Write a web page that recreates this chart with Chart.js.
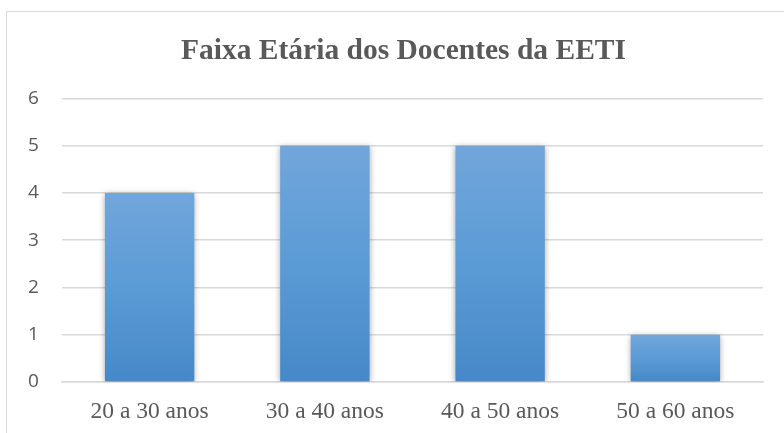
<!DOCTYPE html>
<html>
<head>
<meta charset="utf-8">
<script src="https://cdn.jsdelivr.net/npm/chart.js@4/dist/chart.umd.min.js"></script>
<style>
  html, body { margin: 0; padding: 0; background: #fff; overflow: hidden; }
  #frame { position: absolute; left: 6px; top: 11px; width: 800px; height: 440px; border: 1px solid #d9d9d9; }
  #wrap { position: absolute; left: 0; top: 0; width: 784px; height: 433px; }
</style>
</head>
<body>
<div id="frame"></div>
<div id="wrap"><canvas id="bar-chart" width="784" height="433"></canvas></div>
<script>
var categories = ["20 a 30 anos", "30 a 40 anos", "40 a 50 anos", "50 a 60 anos"];
var values = [4, 5, 5, 1];
var yTicks = [0, 1, 2, 3, 4, 5, 6];
var chartTitle = "Faixa Etária dos Docentes da EETI";

// each bar gets its own top-to-bottom gradient
function barColor(context) {
  var chart = context.chart;
  if (!chart.chartArea || context.dataIndex === undefined) return "#5b9bd5";
  var y = chart.scales.y;
  var top = y.getPixelForValue(values[context.dataIndex]);
  var bottom = y.getPixelForValue(0);
  if (!isFinite(top) || !isFinite(bottom) || top === bottom) return "#5b9bd5";
  var g = chart.ctx.createLinearGradient(0, top, 0, bottom);
  g.addColorStop(0, "#71a6db");
  g.addColorStop(0.5, "#5b9bd5");
  g.addColorStop(1, "#4688c8");
  return g;
}

var barShadow = {
  id: "barShadow",
  beforeDatasetDraw: function(chart) {
    var ctx = chart.ctx;
    ctx.save();
    ctx.shadowColor = "rgba(0,0,0,0.35)";
    ctx.shadowBlur = 6;
    ctx.shadowOffsetX = 0;
    ctx.shadowOffsetY = 1;
  },
  afterDatasetDraw: function(chart) {
    chart.ctx.restore();
  }
};

var chart = new Chart(document.getElementById("bar-chart"), {
  type: "bar",
  data: {
    labels: categories,
    datasets: [{
      data: values,
      backgroundColor: barColor,
      borderWidth: 0,
      barPercentage: 0.51,
      categoryPercentage: 1
    }]
  },
  options: {
    responsive: false,
    animation: false,
    layout: { padding: { left: 44, right: 21, top: 0, bottom: 0 } },
    plugins: {
      legend: { display: false },
      tooltip: { enabled: false },
      title: {
        display: true,
        text: chartTitle,
        color: "#595959",
        font: { family: "'Liberation Serif', 'Times New Roman', serif", size: 29.5, weight: "bold" },
        padding: { top: 34, bottom: 29 }
      }
    },
    scales: {
      x: {
        grid: { display: false, drawTicks: false },
        border: { color: "#d9d9d9", width: 1.5 },
        ticks: {
          color: "#595959",
          font: { family: "'Liberation Serif', 'Times New Roman', serif", size: 23.5 },
          padding: 16
        },
        afterFit: function(scale) { scale.height = 51; }
      },
      y: {
        min: 0,
        max: 6,
        afterBuildTicks: function(scale) {
          scale.ticks = yTicks.map(function(v) { return { value: v }; });
        },
        grid: { color: "#d9d9d9", lineWidth: 1.5, drawTicks: false },
        border: { display: false },
        ticks: {
          color: "#595959",
          font: { family: "'Open Sans', 'Liberation Sans', sans-serif", size: 19 },
          mirror: true,
          padding: -34
        },
        afterFit: function(scale) { scale.width = 18; }
      }
    }
  },
  plugins: [barShadow]
});
</script>
</body>
</html>
